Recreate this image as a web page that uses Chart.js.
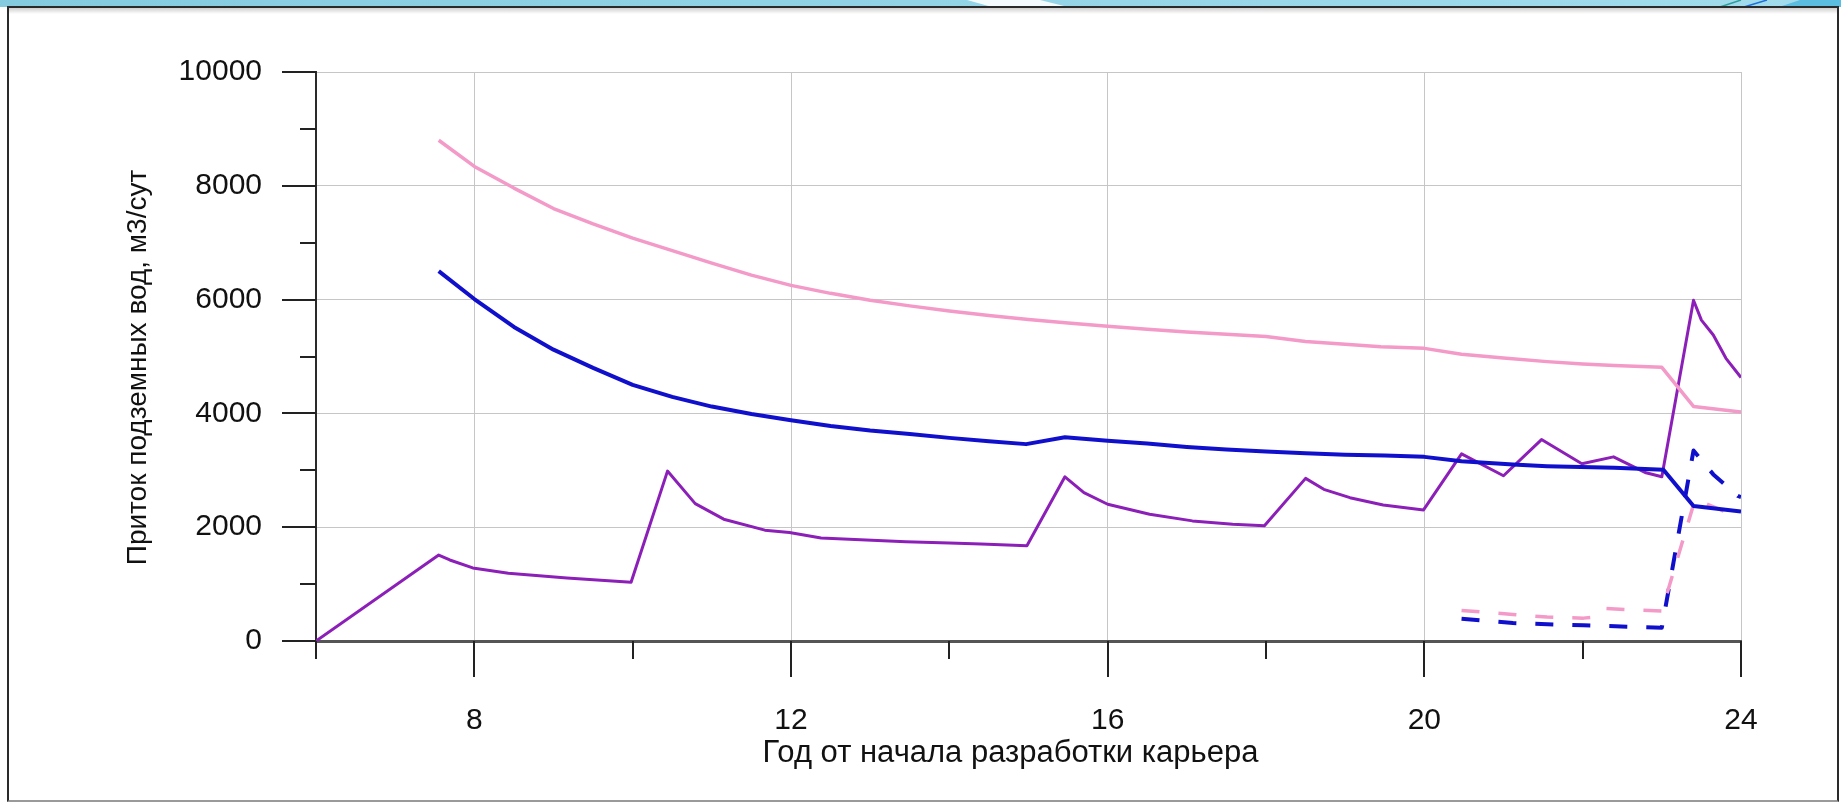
<!DOCTYPE html>
<html>
<head>
<meta charset="utf-8">
<script src="https://cdn.jsdelivr.net/npm/chart.js@4.4.1/dist/chart.umd.min.js"></script>
<style>
  html, body { margin: 0; padding: 0; background: #fff; width: 1841px; height: 803px; overflow: hidden; }
  #banner { position: absolute; left: 0; top: 0; }
  #frame { position: absolute; left: 7px; top: 6px; width: 1828px; height: 792px;
           border: 2px solid #2a2a2a; border-bottom-color: #9a9a9a;
           background: linear-gradient(#d0d0d0 0px, #ffffff 6px); }
  #wrap { position: absolute; left: 0; top: 0; width: 1841px; height: 803px; }
</style>
</head>
<body>
<svg id="banner" width="1841" height="7" viewBox="0 0 1841 7">
  <defs>
    <linearGradient id="bg" x1="0" x2="1" y1="0" y2="0">
      <stop offset="0" stop-color="#84cbe0"/>
      <stop offset="0.5" stop-color="#92d3e6"/>
      <stop offset="1" stop-color="#a2dcec"/>
    </linearGradient>
  </defs>
  <rect x="0" y="0" width="1841" height="7" fill="url(#bg)"/>
  <polygon points="967,0 1040,0 1068,7 992,7" fill="#f4fbfd"/>
  <line x1="1720" y1="7" x2="1741" y2="0" stroke="#2f9c9a" stroke-width="1.5"/>
  <line x1="1744" y1="7" x2="1767" y2="0" stroke="#1e6fd8" stroke-width="1.5"/>
  <polygon points="1779,7 1800,0 1841,0 1841,7" fill="#5bbde0"/>
</svg>
<div id="frame"></div>
<div id="wrap"><canvas id="c" width="1841" height="803"></canvas></div>
<script>
// Inflow series (year from start of development, m3/day)
const pinkYears = [7.55, 8.0, 8.5, 9.0, 9.5, 10.0, 10.5, 11.0, 11.5, 12.0, 12.5, 13.0, 13.5, 14.0, 14.5, 15.0, 15.5, 16.0, 16.5, 17.0, 17.5, 18.0, 18.5, 19.0, 19.45, 20.0, 20.47, 21.0, 21.55, 22.0, 22.4, 23.0, 23.4, 24.0];
const pinkFlow  = [8800, 8340, 7960, 7600, 7330, 7080, 6860, 6640, 6430, 6250, 6110, 5990, 5890, 5800, 5720, 5650, 5590, 5530, 5480, 5430, 5390, 5350, 5265, 5215, 5172, 5143, 5040, 4975, 4910, 4870, 4840, 4810, 4123, 4023];

const blueYears = [7.55, 8.0, 8.5, 9.0, 9.5, 10.0, 10.5, 11.0, 11.5, 12.0, 12.5, 13.0, 13.5, 14.0, 14.5, 14.97, 15.46, 16.0, 16.5, 17.0, 17.5, 18.0, 18.5, 19.0, 19.5, 20.0, 20.47, 21.12, 21.55, 22.4, 23.02, 23.4, 24.0];
const blueFlow  = [6500, 6010, 5520, 5120, 4800, 4500, 4290, 4120, 3990, 3880, 3780, 3700, 3640, 3570, 3510, 3460, 3580, 3520, 3470, 3410, 3365, 3330, 3300, 3275, 3258, 3236, 3160, 3100, 3073, 3044, 3009, 2374, 2274];

const purpleYears = [6.0, 7.55, 7.69, 7.98, 8.43, 9.17, 9.98, 10.44, 10.79, 11.15, 11.67, 11.98, 12.38, 13.45, 14.0, 14.4, 14.98, 15.46, 15.7, 16.0, 16.53, 17.07, 17.58, 17.98, 18.5, 18.73, 19.06, 19.48, 19.99, 20.47, 21.0, 21.48, 21.99, 22.39, 22.8, 23.0, 23.4, 23.5, 23.65, 23.81, 24.0];
const purpleFlow  = [0, 1510, 1424, 1284, 1190, 1109, 1033, 2986, 2414, 2141, 1948, 1907, 1809, 1744, 1721, 1704, 1674, 2886, 2606, 2403, 2228, 2111, 2053, 2024, 2858, 2666, 2519, 2391, 2304, 3289, 2904, 3540, 3114, 3236, 2956, 2886, 5989, 5640, 5377, 4968, 4630];

const pinkDashYears = [20.47, 21.12, 21.55, 22.01, 22.15, 22.3, 23.0, 23.42, 24.0];
const pinkDashFlow  = [537, 467, 420, 402, 420, 570, 525, 2491, 2158];

const blueDashYears = [20.47, 21.12, 22.01, 23.0, 23.4, 23.65, 23.96, 24.0];
const blueDashFlow  = [392, 315, 275, 234, 3348, 2928, 2549, 2530];

// Axis ticks and captions
const xTickValues = [6, 8, 10, 12, 14, 16, 18, 20, 22, 24];
const xTickLabels = [8, 12, 16, 20, 24];
const yTickValues = [0, 1000, 2000, 3000, 4000, 5000, 6000, 7000, 8000, 9000, 10000];
const yTickLabels = [0, 2000, 4000, 6000, 8000, 10000];
const xTitle = 'Год от начала разработки карьера';
const yTitle = 'Приток подземных вод, м3/сут';

const FONT = '"Liberation Sans", Arial, Helvetica, sans-serif';

function toPoints(xs, ys) { return xs.map((x, i) => ({ x: x, y: ys[i] })); }

// Outside tick marks: long at labelled values, short between them
const tickMarks = {
  id: 'tickMarks',
  afterDraw(chart) {
    const { ctx, chartArea } = chart;
    const xs = chart.scales.x, ys = chart.scales.y;
    ctx.save();
    ctx.strokeStyle = '#222';
    ctx.lineWidth = 2;
    ctx.beginPath();
    yTickValues.forEach(v => {
      const py = Math.round(ys.getPixelForValue(v));
      const len = yTickLabels.includes(v) ? 34 : 16;
      ctx.moveTo(chartArea.left - len, py);
      ctx.lineTo(chartArea.left, py);
    });
    xTickValues.forEach(v => {
      const px = Math.round(xs.getPixelForValue(v));
      const len = xTickLabels.includes(v) ? 36 : 18;
      ctx.moveTo(px, chartArea.bottom);
      ctx.lineTo(px, chartArea.bottom + len);
    });
    ctx.stroke();
    ctx.restore();
  }
};

// Axis captions
const axisTitles = {
  id: 'axisTitles',
  afterDraw(chart) {
    const { ctx, chartArea } = chart;
    ctx.save();
    ctx.fillStyle = '#111';
    ctx.textAlign = 'center';
    ctx.textBaseline = 'alphabetic';
    ctx.font = '31px ' + FONT;
    ctx.fillText(xTitle, (chartArea.left + chartArea.right) / 2 - 18, chartArea.bottom + 121);
    ctx.font = '28px ' + FONT;
    ctx.translate(chartArea.left - 170, (chartArea.top + chartArea.bottom) / 2 + 11);
    ctx.rotate(-Math.PI / 2);
    ctx.fillText(yTitle, 0, 0);
    ctx.restore();
  }
};

function lineSet(label, xs, ys, color, width, dash) {
  return {
    label: label,
    data: toPoints(xs, ys),
    borderColor: color,
    backgroundColor: color,
    borderWidth: width,
    borderDash: dash || [],
    pointRadius: 0,
    tension: 0,
    fill: false,
    borderJoinStyle: 'round'
  };
}

new Chart(document.getElementById('c'), {
  type: 'line',
  data: {
    datasets: [
      lineSet('pink', pinkYears, pinkFlow, '#f39ac8', 3.5),
      lineSet('blue', blueYears, blueFlow, '#1010cc', 4),
      lineSet('purple', purpleYears, purpleFlow, '#8c1fb8', 3),
      lineSet('pinkDash', pinkDashYears, pinkDashFlow, '#f39ac8', 3.5, [18, 19]),
      lineSet('blueDash', blueDashYears, blueDashFlow, '#1010cc', 4, [18, 19])
    ]
  },
  options: {
    responsive: false,
    animation: false,
    devicePixelRatio: 1,
    layout: { padding: { left: 0, top: 69, right: 100, bottom: 0 } },
    plugins: { legend: { display: false }, tooltip: { enabled: false }, title: { display: false } },
    scales: {
      x: {
        type: 'linear',
        min: 6, max: 24,
        afterBuildTicks(scale) { scale.ticks = xTickValues.map(v => ({ value: v })); },
        afterFit(scale) { scale.height = 162; },
        ticks: {
          autoSkip: false,
          maxRotation: 0,
          padding: 62,
          color: '#111',
          font: { family: FONT, size: 30 },
          callback: v => (xTickLabels.includes(v) ? String(v) : '')
        },
        grid: {
          drawTicks: false,
          lineWidth: 1,
          color: ctx => (ctx.tick && xTickLabels.includes(ctx.tick.value) ? '#c6c6c6' : 'rgba(0,0,0,0)')
        },
        border: { display: true, color: '#555', width: 3 }
      },
      y: {
        type: 'linear',
        min: 0, max: 10000,
        afterBuildTicks(scale) { scale.ticks = yTickValues.map(v => ({ value: v })); },
        afterFit(scale) { scale.width = 316; },
        ticks: {
          autoSkip: false,
          padding: 54,
          color: '#111',
          font: { family: FONT, size: 30 },
          callback: v => (yTickLabels.includes(v) ? String(v) : '')
        },
        grid: {
          drawTicks: false,
          lineWidth: 1,
          color: ctx => (ctx.tick && ctx.tick.value > 0 && yTickLabels.includes(ctx.tick.value) ? '#c6c6c6' : 'rgba(0,0,0,0)')
        },
        border: { display: true, color: '#2a2a2a', width: 2 }
      }
    }
  },
  plugins: [tickMarks, axisTitles]
});
</script>
</body>
</html>
